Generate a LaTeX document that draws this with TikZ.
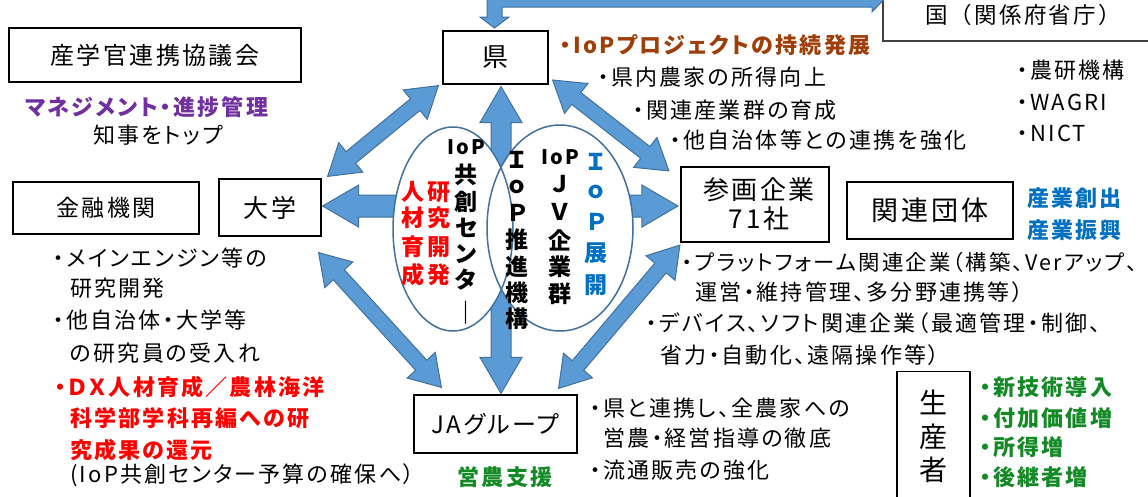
\documentclass[tikz,border=0pt]{standalone}
\usepackage{fontspec}
\setmainfont{Noto Sans CJK JP}[RawFeature=+palt,LetterSpace=10]
\newfontfamily\jpfull{Noto Sans CJK JP}[LetterSpace=10]
\usetikzlibrary{calc}
\definecolor{afill}{HTML}{5B9BD5}
\definecolor{aline}{HTML}{41719C}
\definecolor{mpurple}{HTML}{7030A0}
\definecolor{mred}{HTML}{FF0000}
\definecolor{mbrown}{HTML}{9E3F0A}
\definecolor{mblue}{HTML}{0070C0}
\definecolor{mgreen}{HTML}{138A26}
\newcommand\blockarr[5]{%
  \path let \p1=(#1), \p2=(#2) in \pgfextra{%
    \pgfmathsetmacro\tmpA{atan2(\y2-\y1,\x2-\x1)}%
    \pgfmathsetmacro\tmpL{veclen(\x2-\x1,\y2-\y1)}%
    \xdef\baAng{\tmpA}\xdef\baLen{\tmpL}};
  \begin{scope}[shift={(#1)},rotate=\baAng]
    \draw[barrow] (0,0) -- (#5,#4) -- (#5,#3) -- ({\baLen-#5},#3) -- ({\baLen-#5},#4)
      -- (\baLen,0) -- ({\baLen-#5},-#4) -- ({\baLen-#5},-#3) -- (#5,-#3) -- (#5,-#4) -- cycle;
  \end{scope}}
\begin{document}
\begin{tikzpicture}[x=1pt,y=-1pt,
  box/.style={draw=black,line width=1.2pt,fill=white,inner sep=0pt,align=center},
  txt/.style={anchor=west,inner sep=0pt,font=\fontsize{22}{26}\selectfont},
  btxt/.style={anchor=west,inner sep=0pt,font=\fontsize{22}{26}\selectfont\bfseries},
  colch/.style={inner sep=0pt,font=\fontsize{23}{26}\selectfont\bfseries},
  barrow/.style={fill=afill,draw=aline,line width=1pt,line join=miter}]
\useasboundingbox (0,0) rectangle (1148,496);
\clip (0,0) rectangle (1148,496);
\fill[white] (0,0) rectangle (1148,496);

% boxes
\node[box,minimum width=292,minimum height=54,font=\fontsize{24}{28}\selectfont] (sangaku) at (155,55) {産学官連携協議会};
\node[box,minimum width=105,minimum height=53,font=\fontsize{26}{28}\selectfont] (ken) at (495.5,57.5) {県};
\node[box,draw=black!75,minimum width=280,minimum height=52,font=\jpfull\fontsize{22.5}{26}\selectfont] (kuni) at (1023,15) {国（関係府省庁）};
\node[box,minimum width=186,minimum height=52,font=\fontsize{23}{28}\selectfont] (kinyu) at (106,208) {金融機関};
\node[box,minimum width=102,minimum height=57,font=\fontsize{25}{28}\selectfont] (daigaku) at (270,207.5) {大学};
\node[box,line width=2.2pt,minimum width=148,minimum height=75,font=\fontsize{26}{29}\selectfont] (sankaku) at (755,204.5) {\hspace*{8pt}参画企業\\\hspace*{8pt}71社};
\node[box,minimum width=166,minimum height=57,font=\fontsize{27}{30}\selectfont] (kanren) at (930,210.5) {関連団体};
\node[box,minimum width=163,minimum height=58,font=\fontsize{24}{28}\selectfont] (ja) at (495.5,424) {JAグループ};
\node[box,minimum width=73,minimum height=150,anchor=north] (seisan) at (933.5,371) {};
\foreach \c/\yy [count=\i] in {生/402,産/437,者/470}
  \node[inner sep=0pt,font=\fontsize{28}{30}\selectfont] (sei\i) at (933.5,\yy) {\c};

% arrow end points
\coordinate (a1s) at ($(daigaku.north east)+(6,-2)$);
\coordinate (a1e) at ($(ken.south west)+(-4,1)$);
\coordinate (a2s) at ($(daigaku.east)+(1,-1.5)$);
\coordinate (a2e) at ($(sankaku.west)+(-2,1.5)$);
\coordinate (a3s) at ($(ken.south)+(5.5,2)$);
\coordinate (a3e) at ($(ja.north)+(5.5,-1)$);
\coordinate (a4s) at ($(ken.east)+(4,22.5)$);
\coordinate (a4e) at ($(sankaku.north west)+(-11,5)$);
\coordinate (a5s) at ($(daigaku.south east)+(-3,16)$);
\coordinate (a5e) at ($(ja.north west)+(28,-7)$);
\coordinate (a6s) at ($(sankaku.south west)+(0,2)$);
\coordinate (a6e) at ($(ja.north east)+(-19,-6)$);

\blockarr{a1s}{a1e}{7.5}{19}{30}
\blockarr{a2s}{a2e}{11}{21}{36}
\blockarr{a3s}{a3e}{10}{21}{36}
\blockarr{a4s}{a4e}{7.5}{19}{30}
\blockarr{a5s}{a5e}{7.5}{19}{30}
\blockarr{a6s}{a6e}{7.5}{19}{30}

% top elbow arrow (kuni -> ken)
\draw[barrow] (487,17) -- (480,17) -- (494.5,28) -- (509,17) -- (502,17) -- (502,7)
  -- (872,7) -- (872,12) -- (884,-0.5) -- (872,-13) -- (872,-8) -- (487,-8) -- cycle;

% ellipses
\fill[white] (453,229) ellipse [x radius=60,y radius=102];
\fill[white] (560,228) ellipse [x radius=73,y radius=103];
\draw[aline,line width=1.5pt] (453,229) ellipse [x radius=60,y radius=102];
\draw[aline,line width=1.5pt] (560,228) ellipse [x radius=73,y radius=103];

% ellipse texts
\node[inner sep=0pt,font=\fontsize{20}{22}\selectfont\bfseries] (liop) at (466,147) {IoP};
\node[inner sep=0pt,font=\fontsize{20}{22}\selectfont\bfseries] (riop) at (560,157) {IoP};
\foreach \c/\yy [count=\i] in {共/175,創/202,セ/228,ン/254,タ/280,｜/313}
  \node[colch] (lc\i) at (466,\yy) {\c};
\foreach \c/\yy [count=\i] in {人/192,材/218,育/247,成/275}
  \node[colch,text=mred] (ra\i) at (413,\yy) {\c};
\foreach \c/\yy [count=\i] in {研/192,究/218,開/247,発/275}
  \node[colch,text=mred] (rb\i) at (439,\yy) {\c};
\foreach \c/\yy [count=\i] in {Ｉ/160,ｏ/187,Ｐ/213,推/240,進/267,機/293,構/319}
  \node[colch] (mc\i) at (517,\yy) {\c};
\foreach \c/\yy [count=\i] in {Ｊ/184,Ｖ/212,企/240,業/267,群/294}
  \node[colch] (rc\i) at (560,\yy) {\c};
\foreach \c/\yy [count=\i] in {Ｉ/162,ｏ/192,Ｐ/222,展/253,開/285}
  \node[colch,text=mblue] (bc\i) at (596,\yy) {\c};

% left texts
\node[btxt,text=mpurple] (mgmt) at (25,107) {マネジメント・進捗管理};
\node[txt] (chiji) at (93,135) {知事をトップ};
\node[txt] (t1) at (53,258) {・メインエンジン等の};
\node[txt] (t2) at (70,288) {研究開発};
\node[txt] (t3) at (53,320) {・他自治体・大学等};
\node[txt] (t4) at (70,353) {の研究員の受入れ};
\node[btxt,text=mred] (r1) at (55,387) {・ＤＸ人材育成／農林海洋};
\node[btxt,text=mred] (r2) at (70,418) {科学部学科再編への研};
\node[btxt,text=mred] (r3) at (70,450) {究成果の還元};
\node[txt] (p1) at (70,475) {(IoP共創センター予算の確保へ）};

% top centre texts
\node[btxt,text=mbrown] (iop) at (560,45) {・IoPプロジェクトの持続発展};
\node[txt] (k1) at (598,77) {・県内農家の所得向上};
\node[txt] (k2) at (633,110) {・関連産業群の育成};
\node[txt] (k3) at (670,140) {・他自治体等との連携を強化};

% right texts
\node[txt] (n1) at (1017,70) {・農研機構};
\node[txt] (n2) at (1017,102) {・WAGRI};
\node[txt] (n3) at (1017,133) {・NICT};
\node[btxt,text=mblue] (s1) at (1027,198) {産業創出};
\node[btxt,text=mblue] (s2) at (1027,230) {産業振興};

\node[txt,font=\fontsize{21.4}{26}\selectfont] (pf1) at (682,262) {・プラットフォーム関連企業（構築、Verアップ、};
\node[txt] (pf2) at (695,292) {運営・維持管理、多分野連携等）};
\node[txt] (dv1) at (646,323) {・デバイス、ソフト関連企業（最適管理・制御、};
\node[txt] (dv2) at (660,355) {省力・自動化、遠隔操作等）};

% bottom texts
\node[txt] (j1) at (590,408) {・県と連携し、全農家への};
\node[txt] (j2) at (603,438) {営農・経営指導の徹底};
\node[txt] (j3) at (590,470) {・流通販売の強化};
\node[btxt,text=mgreen,anchor=center] (ein) at (505,477) {営農支援};
\node[btxt,text=mgreen] (g1) at (980,387) {・新技術導入};
\node[btxt,text=mgreen] (g2) at (980,418) {・付加価値増};
\node[btxt,text=mgreen] (g3) at (980,447) {・所得増};
\node[btxt,text=mgreen] (g4) at (980,477) {・後継者増};
\end{tikzpicture}
\end{document}
